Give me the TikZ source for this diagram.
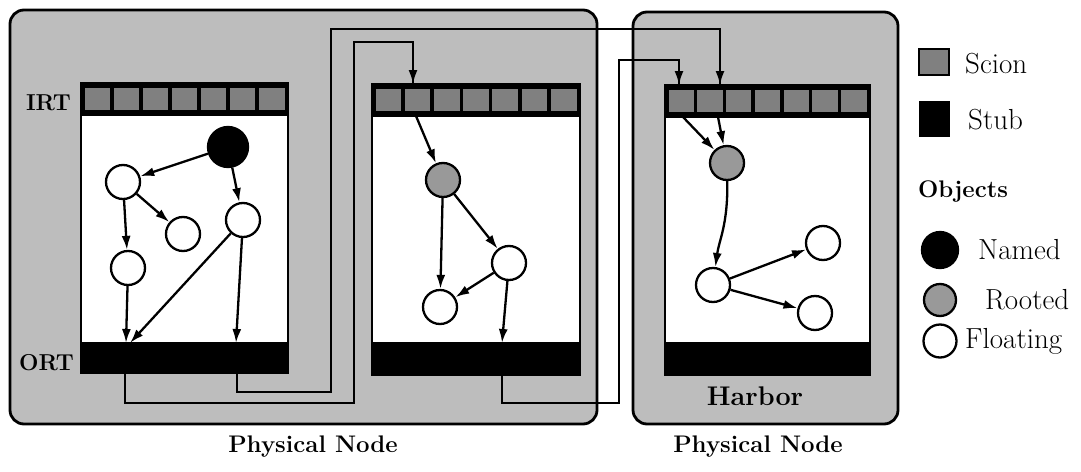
\documentclass[tikz,border=0pt]{standalone}
\usetikzlibrary{arrows.meta}
\definecolor{stipple}{gray}{0.74}
\definecolor{scionc}{gray}{0.5}
\definecolor{rootc}{gray}{0.6}
\newcommand\scioncells[3]{%
  \foreach \i in {0,...,6}{%
    \fill[scionc] ({#1+3.5+\i*(#3-3.5)/7}, {#2+4.5}) rectangle ++({(#3-3.5)/7-3.5}, 22);}}
\begin{document}
\begin{tikzpicture}[x=1pt,y=-1pt,
  phys/.style={draw, line width=2.8pt, fill=stipple, rounded corners=14pt, inner sep=0},
  barbox/.style={draw, line width=2.5pt, fill=black, inner sep=0},
  bodybox/.style={draw, line width=2.5pt, fill=white, inner sep=0},
  obj/.style={circle, draw, line width=2.3pt, fill=white, minimum size=34pt, inner sep=0},
  namedobj/.style={obj, fill=black, minimum size=40pt},
  rootobj/.style={obj, fill=rootc},
  arr/.style={line width=2.3pt, -{Latex[length=14pt,width=9pt]}},
  wire/.style={line width=2.3pt},
  lbl/.style={font=\fontsize{#1}{#1}\selectfont\bfseries, inner sep=0},
  legtxt/.style={font=\fontsize{29}{33}\selectfont, inner sep=0, anchor=west}
]
\useasboundingbox (0,0) rectangle (1081,471);

% physical nodes
\node[phys, minimum width=587pt, minimum height=414pt] (phys1) at (303.5,217) {};
\node[phys, minimum width=265pt, minimum height=412pt] (phys2) at (765.5,218) {};

% box 1
\node[bodybox, minimum width=207pt, minimum height=228pt] (body1) at (184.5,229) {};
\node[barbox, minimum width=207pt, minimum height=32pt] (irt1) at (184.5,99) {};
\node[barbox, minimum width=207pt, minimum height=30pt] (ort1) at (184.5,358) {};
\scioncells{81}{83}{207}
% box 2
\node[bodybox, minimum width=208pt, minimum height=227pt] (body2) at (476,229.5) {};
\node[barbox, minimum width=208pt, minimum height=32pt] (irt2) at (476,100) {};
\node[barbox, minimum width=208pt, minimum height=32pt] (ort2) at (476,359) {};
\scioncells{372}{84}{208}
% box 3
\node[bodybox, minimum width=205pt, minimum height=226pt] (body3) at (767.5,230) {};
\node[barbox, minimum width=205pt, minimum height=32pt] (irt3) at (767.5,101) {};
\node[barbox, minimum width=205pt, minimum height=32pt] (ort3) at (767.5,359) {};
\scioncells{665}{85}{205}

% labels
\node[lbl=23, anchor=base east] (irtl) at (71,110) {IRT};
\node[lbl=23, anchor=base east] (ortl) at (74,370) {ORT};
\node[lbl=27, anchor=base] (harbor) at (755,405) {Harbor};
\node[lbl=24, anchor=base] (pn1) at (313,452) {Physical Node};
\node[lbl=24, anchor=base] (pn2) at (758,452) {Physical Node};

% connector end points
\coordinate (p1a) at (125,373);
\coordinate (p2a) at (237,373);
\coordinate (p3a) at (502,375);
\coordinate (t1) at (413,84);
\coordinate (t2) at (720,85);
\coordinate (t3) at (679,85);
\draw[wire] (p1a) |- (354,403) -- (354,42) -| (t1);
\draw[wire] (p2a) |- (331,392) -- (331,29) -| (t2);
\draw[wire] (p3a) |- (619,403) -- (619,60) -| (t3);
\draw[arr] (413,68) -- (t1);
\draw[arr] (720,68) -- (t2);
\draw[arr] (679,68) -- (t3);

% objects box 1
\node[namedobj] (n1) at (228,147) {};
\node[obj] (a1) at (123,182) {};
\node[obj] (b1) at (243,220) {};
\node[obj] (c1) at (183,234) {};
\node[obj] (d1) at (128,268) {};
\coordinate (o1d) at (126,343);
\coordinate (o1b) at (130,343);
\coordinate (o1e) at (236,343);
\draw[arr] (n1) -- (a1);
\draw[arr] (n1) -- (b1);
\draw[arr] (a1) -- (d1);
\draw[arr] (a1) -- (c1);
\draw[arr] (d1) -- (o1d);
\draw[arr] (b1) -- (o1b);
\draw[arr] (b1) -- (o1e);

% objects box 2
\node[rootobj] (r2) at (443,180) {};
\node[obj] (e2) at (440,307) {};
\node[obj] (f2) at (509,263) {};
\coordinate (s2) at (416,116);
\coordinate (o2) at (502,343);
\draw[arr] (s2) -- (r2);
\draw[arr] (r2) -- (e2);
\draw[arr] (r2) -- (f2);
\draw[arr] (f2) -- (e2);
\draw[arr] (f2) -- (o2);

% objects box 3
\node[rootobj] (r3) at (727,163) {};
\node[obj] (g3) at (713,285) {};
\node[obj] (h3) at (823,243) {};
\node[obj] (i3) at (815,313) {};
\coordinate (s3a) at (683,117);
\coordinate (s3b) at (718,117);
\draw[arr] (s3a) -- (r3);
\draw[arr] (s3b) -- (r3);
\draw[arr] (r3) .. controls (728,225) and (719,240) .. (g3);
\draw[arr] (g3) -- (h3);
\draw[arr] (g3) -- (i3);

% legend
\node[draw, line width=2.5pt, fill=scionc, minimum width=30pt, minimum height=26pt, inner sep=0] (lscion) at (934,62) {};
\node[legtxt] (tscion) at (965,64) {Scion};
\node[fill=black, minimum width=31pt, minimum height=36pt, inner sep=0] (lstub) at (934.5,119) {};
\node[legtxt] (tstub) at (968,120) {Stub};
\node[legtxt, font=\fontsize{24}{28}\selectfont\bfseries] (tobj) at (918,192) {Objects};
\node[namedobj, minimum size=36pt] (lnamed) at (940,250) {};
\node[legtxt] (tnamed) at (978,250) {Named};
\node[rootobj, minimum size=32pt] (lrooted) at (940,300) {};
\node[legtxt] (trooted) at (985,300) {Rooted};
\node[obj, minimum size=33pt] (lfloat) at (940,341) {};
\node[legtxt] (tfloat) at (965,341) {Floating};
\end{tikzpicture}
\end{document}
